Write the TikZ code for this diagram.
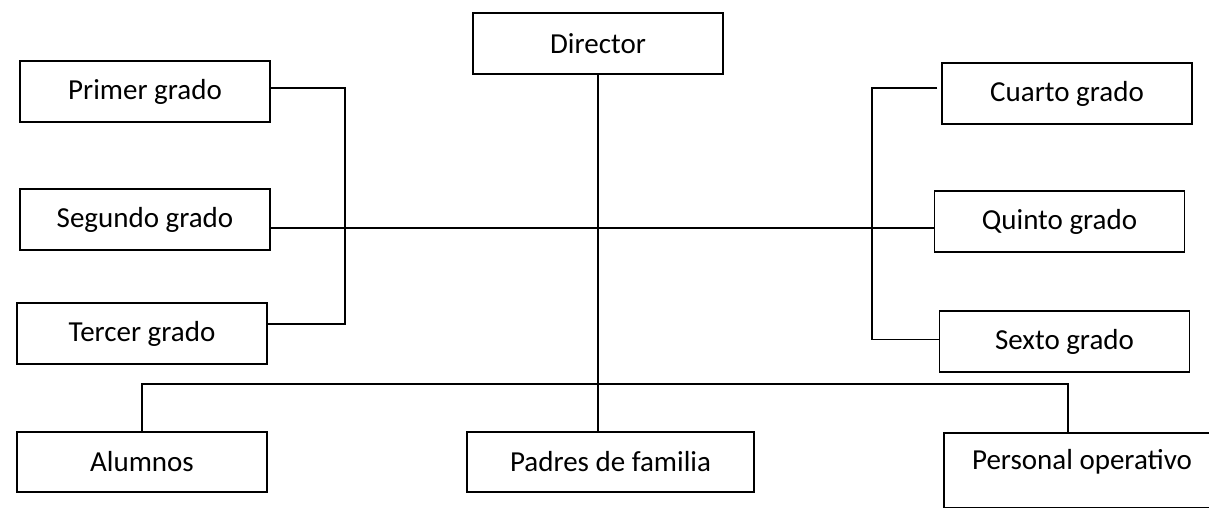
\documentclass[tikz,border=0pt]{standalone}
\usepackage{fontspec}
\setmainfont{Carlito}
\tikzset{
    orgbox/.style={draw, line width=1.5pt, minimum width=250pt, minimum height=61pt,
                   inner sep=0pt, font=\fontsize{29}{34}\selectfont},
    orgline/.style={line width=1.3pt}
}

\begin{document}
\begin{tikzpicture}[x=1pt, y=-1pt]
    \useasboundingbox (0, 0) rectangle (1209, 508);
    \clip (0, 0) rectangle (1209, 508);
    % 先画各个方框
    \node [orgbox] (director) at (598, 43.5) {Director};
    \node [orgbox] (primer)   at (145, 91.5)  {Primer grado};
    \node [orgbox] (segundo)  at (145, 219.5) {Segundo grado};
    \node [orgbox] (tercer)   at (142, 333.5) {Tercer grado};
    \node [orgbox] (cuarto)   at (1067, 93.5)   {Cuarto grado};
    \node [orgbox] (quinto)   at (1059.5, 221.5) {Quinto grado};
    \node [orgbox] (sexto)    at (1064.5, 341.5) {Sexto grado};
    \node [orgbox, minimum height=60pt] (alumnos) at (142, 462) {Alumnos};
    \node [orgbox, minimum height=60pt, minimum width=287pt] (padres) at (610.5, 462) {Padres de familia};
    \node [orgbox, anchor=north west, minimum width=300pt, minimum height=75pt] (personal) at (943, 432) {};
    \node [font=\fontsize{29}{34}\selectfont] (personaltxt) at (1082, 462) {Personal operativo};
    % 再画连线
    \coordinate (hub)  at (600, 228);
    \coordinate (lbar) at (345, 228);
    \coordinate (rbar) at (872, 228);
    \coordinate (bus)  at (600, 384);
    \coordinate (busR) at (1068, 384);
    \draw [orgline] (director.south) -- (director.south |- padres.north);
    \draw [orgline] (segundo.east |- hub) -- (quinto.west |- hub);
    \draw [orgline] ([yshift=3.5pt]primer.east) -| (lbar) |- ([yshift=9.5pt]tercer.east);
    \draw [orgline] ([yshift=5.5pt, xshift=-4pt]cuarto.west) -| (rbar) |- ([yshift=2pt]sexto.west);
    \draw [orgline] (alumnos.north) |- (bus) -- (busR) -- (busR |- personal.north);
\end{tikzpicture}
\end{document}
